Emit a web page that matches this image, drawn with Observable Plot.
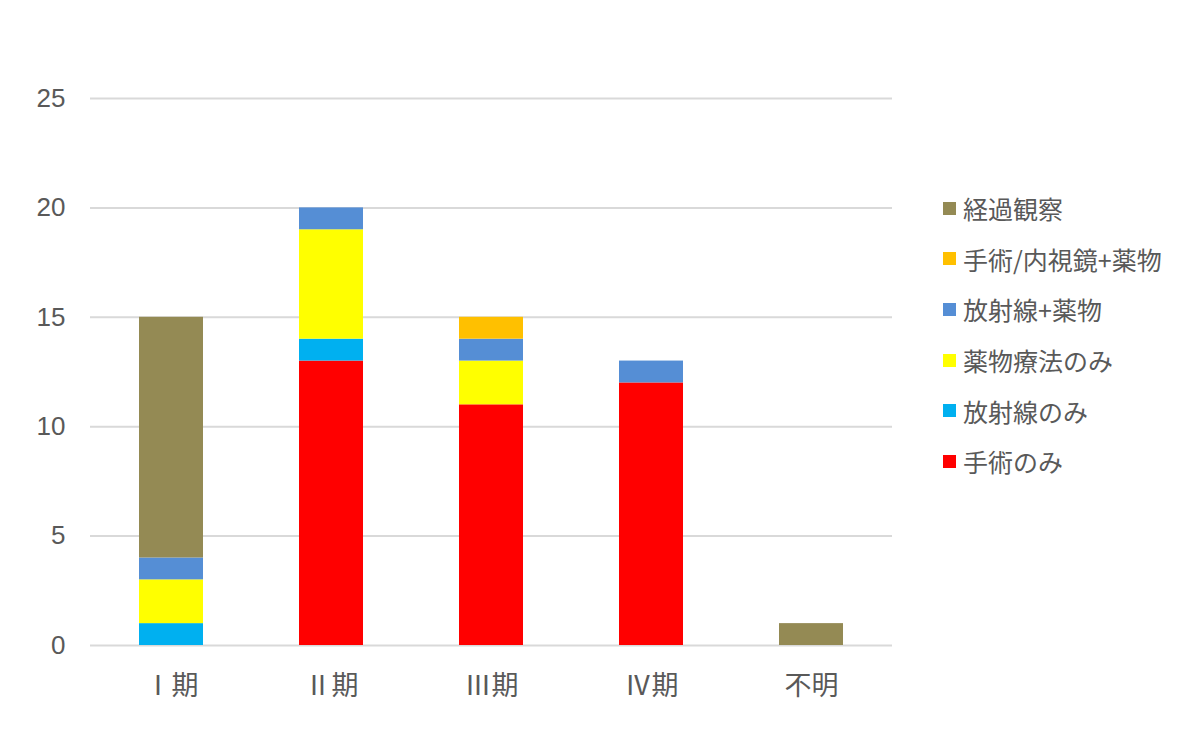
<!DOCTYPE html>
<html><head><meta charset="utf-8">
<script src="https://cdn.jsdelivr.net/npm/d3@7"></script>
<script src="https://cdn.jsdelivr.net/npm/@observablehq/plot@0.6"></script>
<style>
body{margin:0;background:#fff;font-family:"Noto Sans CJK JP","Noto Sans",sans-serif;}
#wrap{position:relative;width:1200px;height:735px;}
#legend{position:absolute;left:943px;top:183px;color:#595959;font-size:25px;}
#legend .it{display:flex;align-items:center;height:50.6px;}
#legend .sw{width:13px;height:13px;margin-right:7px;}
</style></head><body>
<div id="wrap"><div id="chart"></div><div id="legend"></div></div>
<script>
const categories = ["Ⅰ期", "Ⅱ期", "Ⅲ期", "Ⅳ期", "不明"];
const series = ["手術のみ", "放射線のみ", "薬物療法のみ", "放射線+薬物", "手術/内視鏡+薬物", "経過観察"];
const colors = ["#FF0000", "#00B0F0", "#FFFF00", "#558ED5", "#FFC000", "#948A54"];
const surgeryOnly   = [0, 13, 11, 12, 0];
const radiationOnly = [1, 1, 0, 0, 0];
const drugOnly      = [2, 5, 2, 0, 0];
const radDrug       = [1, 1, 1, 1, 0];
const surgEndoDrug  = [0, 0, 1, 0, 0];
const observation   = [11, 0, 0, 0, 1];
const yTicks = [0, 5, 10, 15, 20, 25];

const valuesBySeries = [surgeryOnly, radiationOnly, drugOnly, radDrug, surgEndoDrug, observation];
const data = [];
series.forEach((s, si) => categories.forEach((c, ci) => data.push({category: c, series: s, value: valuesBySeries[si][ci]})));

const chart = Plot.plot({
  width: 1200, height: 735,
  marginLeft: 90, marginRight: 308, marginTop: 98, marginBottom: 90,
  style: {fontFamily: '"Noto Sans CJK JP","Noto Sans",sans-serif', fontSize: "26px", color: "#595959", background: "#fff"},
  x: {domain: categories, paddingInner: 0.6, paddingOuter: 0.3, label: null},
  y: {domain: [0, 25], ticks: yTicks, label: null},
  color: {domain: series, range: colors},
  marks: [
    Plot.gridY(yTicks, {stroke: "#d9d9d9", strokeOpacity: 1, strokeWidth: 2}),
    Plot.barY(data, Plot.stackY({x: "category", y: "value", fill: "series", order: series})),
    Plot.axisX({tickSize: 0, tickPadding: 30, fontSize: 27, fill: "#595959"}),
    Plot.axisY({ticks: yTicks, tickSize: 0, tickPadding: 25, fontSize: 26, fill: "#595959", fontFamily: '"Liberation Sans", Arial, sans-serif'})
  ]
});
document.getElementById("chart").appendChild(chart);

const legend = document.getElementById("legend");
series.slice().reverse().forEach((s) => {
  const i = series.indexOf(s);
  const it = document.createElement("div"); it.className = "it";
  const sw = document.createElement("div"); sw.className = "sw"; sw.style.background = colors[i];
  const t = document.createElement("span"); t.textContent = s;
  it.appendChild(sw); it.appendChild(t); legend.appendChild(it);
});
</script></body></html>
